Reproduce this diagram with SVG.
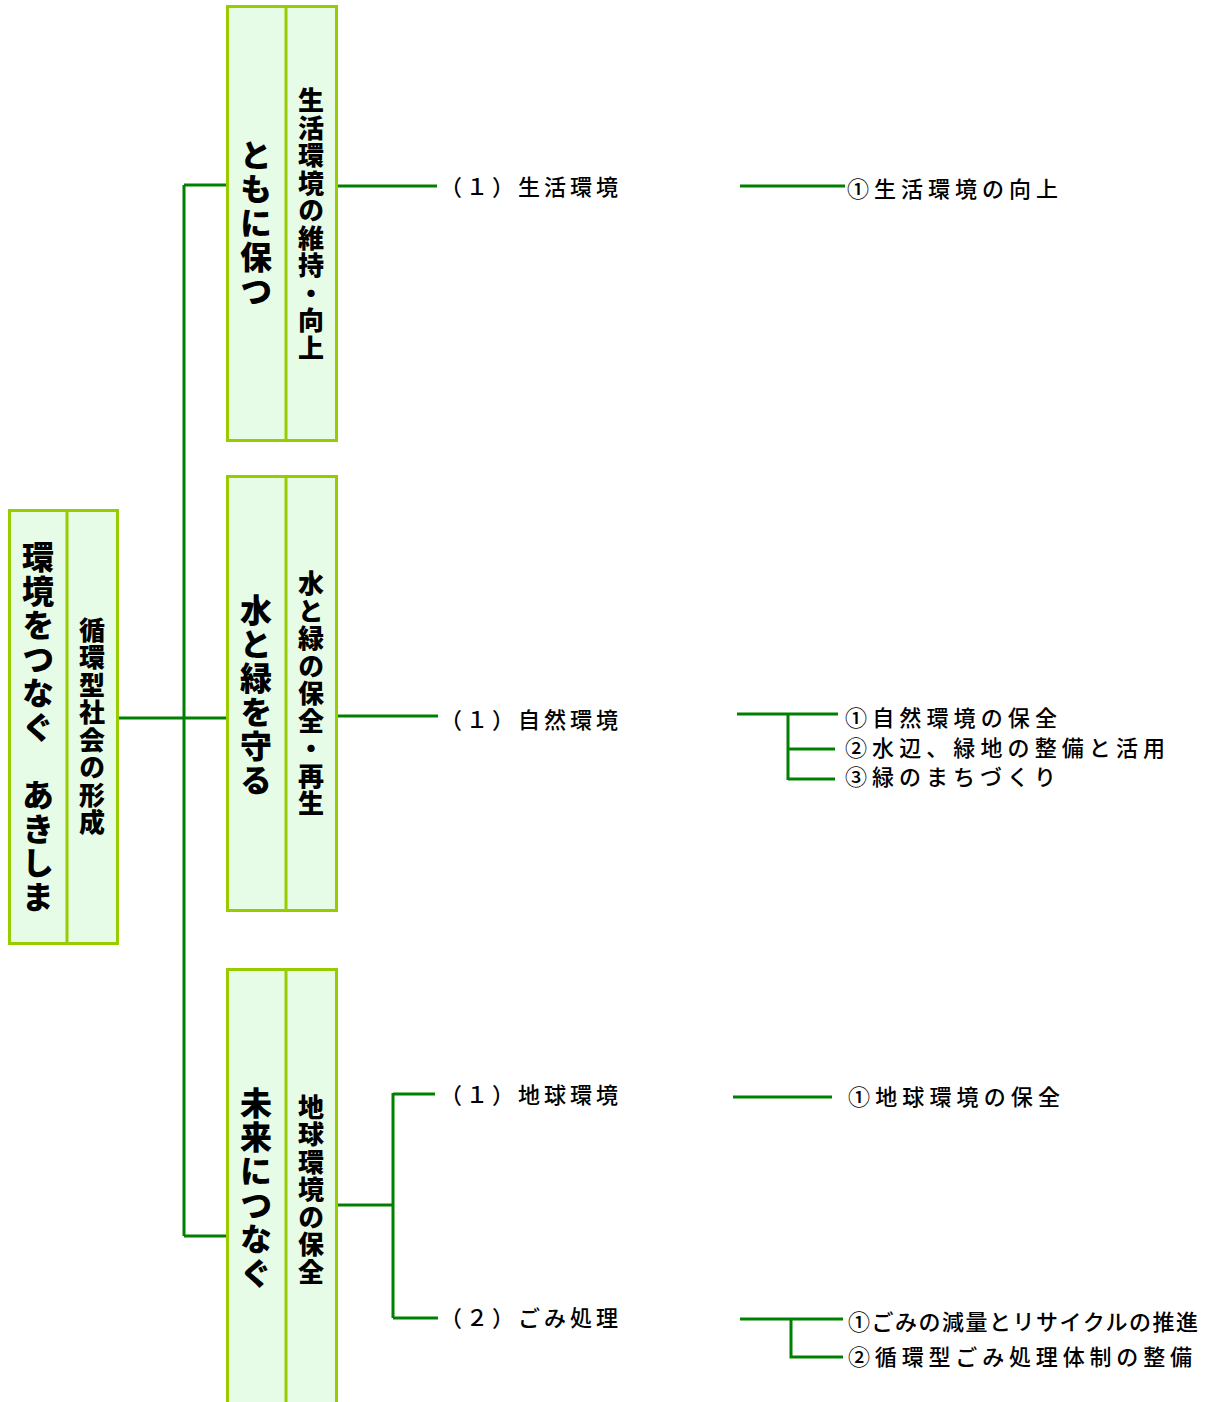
<svg xmlns="http://www.w3.org/2000/svg" width="1209" height="1402" viewBox="0 0 1209 1402">
<style>
.box{fill:#e6fce6;stroke:#99cc00;stroke-width:3}
.div{stroke:#99cc00;stroke-width:3}
.con{fill:none;stroke:#008000;stroke-width:3}
.vt{font-family:"Noto Sans CJK JP","Noto Sans",sans-serif;font-weight:900;fill:#000;writing-mode:vertical-rl;text-anchor:middle}
.big{font-size:32px;letter-spacing:2px}
.mid{font-size:26px;letter-spacing:1.5px}
.lb{font-family:"Noto Sans CJK JP","Noto Sans",sans-serif;font-size:22px;font-weight:500;fill:#000}
</style>
<rect width="1209" height="1402" fill="#fff"/>
<g id="connectors">
<path class="con" d="M118 718H227M184 185V1236M184 185H227M184 1236H227"/>
<path class="con" d="M337 186H437M740 186H845"/>
<path class="con" d="M337 716H438M737 714H838M788 714V780M788 749H835M788 779H835"/>
<path class="con" d="M337 1205H393M393 1093V1318M393 1094H435M393 1318H438M733 1097H832"/>
<path class="con" d="M740 1319H843M791 1319V1357H843"/>
</g>
<g id="root">
<rect class="box" x="9.5" y="510.5" width="108" height="433"/>
<line class="div" x1="67" y1="510" x2="67" y2="944"/>
<text class="vt big" x="38" y="728">環境をつなぐ　あきしま</text>
<text class="vt mid" x="92" y="727">循環型社会の形成</text>
</g>
<g id="node1">
<rect class="box" x="227.5" y="6.5" width="109" height="434"/>
<line class="div" x1="286" y1="6" x2="286" y2="441"/>
<text class="vt big" x="256" y="224">ともに保つ</text>
<text class="vt mid" x="311" y="225">生活環境の維持・向上</text>
</g>
<g id="node2">
<rect class="box" x="227.5" y="476.5" width="109" height="434"/>
<line class="div" x1="286" y1="476" x2="286" y2="911"/>
<text class="vt big" x="256" y="696">水と緑を守る</text>
<text class="vt mid" x="311" y="694">水と緑の保全・再生</text>
</g>
<g id="node3">
<rect class="box" x="227.5" y="969.5" width="109" height="440"/>
<line class="div" x1="286" y1="969" x2="286" y2="1410"/>
<text class="vt big" x="256" y="1189">未来につなぐ</text>
<text class="vt mid" x="311" y="1190">地球環境の保全</text>
</g>
<g id="sub1"><text class="lb" x="440" y="195" textLength="178">（１）生活環境</text></g>
<g id="sub2"><text class="lb" x="440" y="728" textLength="178">（１）自然環境</text></g>
<g id="sub3"><text class="lb" x="440" y="1103" textLength="178">（１）地球環境</text></g>
<g id="sub4"><text class="lb" x="440" y="1326" textLength="178">（２）ごみ処理</text></g>
<g id="item1"><text class="lb" x="847" y="197" textLength="211">①生活環境の向上</text></g>
<g id="item2"><text class="lb" x="845" y="726" textLength="212">①自然環境の保全</text></g>
<g id="item3"><text class="lb" x="845" y="756" textLength="320">②水辺、緑地の整備と活用</text></g>
<g id="item4"><text class="lb" x="845" y="785" textLength="211">③緑のまちづくり</text></g>
<g id="item5"><text class="lb" x="848" y="1105" textLength="212">①地球環境の保全</text></g>
<g id="item6"><text class="lb" x="848" y="1330" textLength="350">①ごみの減量とリサイクルの推進</text></g>
<g id="item7"><text class="lb" x="848" y="1365" textLength="344">②循環型ごみ処理体制の整備</text></g>
</svg>
